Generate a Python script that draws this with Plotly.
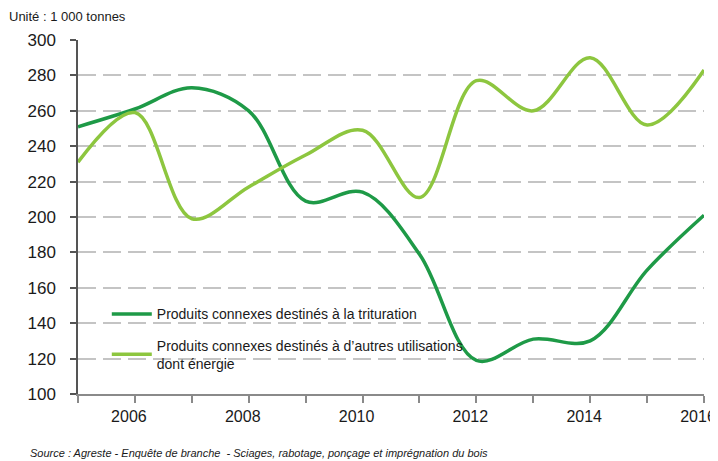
import plotly.graph_objects as go

years = list(range(2005, 2017))
trituration = [251, 261, 273, 260, 209, 214, 179, 119, 131, 130, 170, 201]
autres = [231, 259, 199, 217, 235, 249, 211, 277, 260, 290, 252, 283]

tick_years = years
tick_text = [str(y) if y % 2 == 0 else "" for y in years]
y_ticks = list(range(100, 320, 20))

font = "Liberation Sans, Arial, sans-serif"

# the page puts the figure 8px in from the top-left corner, so the
# figure is 8px smaller and the margins are shifted by that much
fig = go.Figure()
fig.add_trace(go.Scatter(
    x=years, y=trituration, mode="lines", legendgroup="a",
    name="Produits connexes destinés à la trituration",
    line=dict(color="#1e9a47", width=3.5, shape="spline", smoothing=1.0),
))
fig.add_trace(go.Scatter(
    x=years, y=autres, mode="lines", legendgroup="b",
    name="Produits connexes destinés à d\u2019autres utilisations<br>dont énergie",
    line=dict(color="#8dc63f", width=3.5, shape="spline", smoothing=1.0),
))

fig.update_layout(
    width=710, height=453,
    margin=dict(l=70, r=14, t=32, b=67, autoexpand=False),
    paper_bgcolor="white", plot_bgcolor="white",
    font=dict(family=font, color="#1a1a1a"),
    showlegend=True,
    legend=dict(
        x=0.046, y=0.27, xanchor="left", yanchor="top",
        bgcolor="rgba(0,0,0,0)", font=dict(size=14),
        tracegroupgap=10, itemwidth=40,
    ),
    xaxis=dict(
        range=[2005, 2016], tickvals=tick_years, ticktext=tick_text,
        showgrid=False, zeroline=False, automargin=False,
        showline=True, linecolor="#8a8a8a", linewidth=1.5,
        ticks="outside", ticklen=7, tickcolor="#8a8a8a", tickwidth=1.5,
        tickfont=dict(size=16), ticklabeloverflow="allow", ticklabelshift=-6,
        fixedrange=True,
    ),
    yaxis=dict(
        range=[100, 300], tickvals=y_ticks, automargin=False,
        showgrid=True, gridcolor="#c4c4c4", gridwidth=1.5, griddash="18px,7px",
        zeroline=False,
        showline=True, linecolor="#555555", linewidth=1.5,
        ticks="outside", ticklen=6, tickcolor="#555555", tickwidth=1.5,
        tickfont=dict(size=17), ticklabelstandoff=11,
    ),
)

fig.add_annotation(text="Unité : 1 000 tonnes", xref="paper", yref="paper",
                   x=-0.114, y=1.065, xanchor="left", yanchor="middle",
                   showarrow=False, font=dict(size=13))
fig.add_annotation(text="<i>Source : Agreste - Enquête de branche  - Sciages, rabotage, ponçage et imprégnation du bois</i>",
                   xref="paper", yref="paper",
                   x=-0.08, y=-0.168, xanchor="left", yanchor="middle",
                   showarrow=False,
                   font=dict(size=11, family="Liberation Sans Narrow, Arial Narrow, Liberation Sans, sans-serif"))

fig.write_html("out.html")
